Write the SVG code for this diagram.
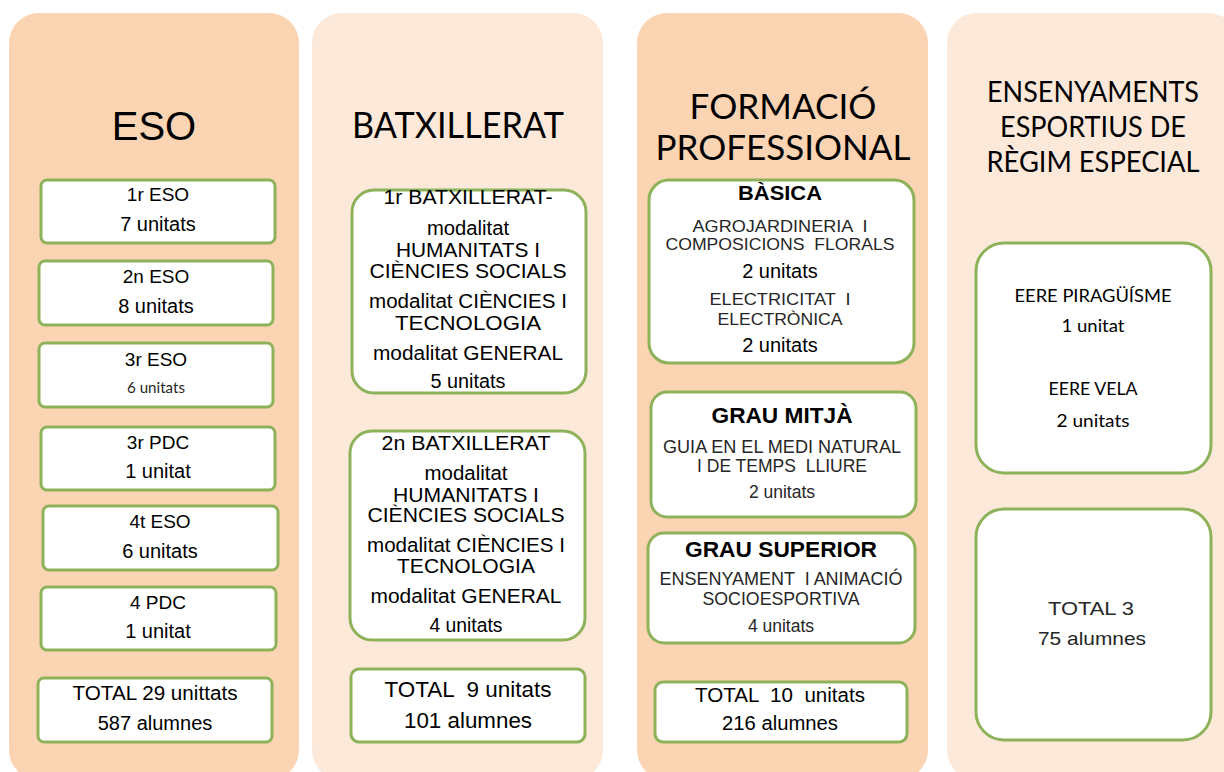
<svg xmlns="http://www.w3.org/2000/svg" width="1224" height="772" viewBox="0 0 1224 772">
<style>
.col1{fill:#FBD4B4}
.col2{fill:#FDE9D9}
.box{fill:#FFFFFF;stroke:#8DB25A;stroke-width:3}
.a{font-family:"Liberation Sans",Arial,sans-serif;fill:#000;text-anchor:middle;white-space:pre}
.c{font-family:Lato,"Liberation Sans",sans-serif;fill:#000;text-anchor:middle;white-space:pre}
.g{fill:#262626}
.b{font-weight:bold}
</style>
<rect width="1224" height="772" fill="#FFFFFF"/>
<g id="col-eso">
<rect class="col1" x="9" y="13" width="290" height="767" rx="30"/>
<text class="a" x="154" y="140" font-size="40">ESO</text>
</g>
<g id="col-batx">
<rect class="col2" x="312" y="13" width="291" height="767" rx="30"/>
<text class="c" x="458" y="138" font-size="36" textLength="212" lengthAdjust="spacingAndGlyphs">BATXILLERAT</text>
</g>
<g id="col-fp">
<rect class="col1" x="637" y="13" width="291" height="767" rx="30"/>
<text class="c" x="783" y="119" font-size="35" textLength="187" lengthAdjust="spacingAndGlyphs">FORMACIÓ</text>
<text class="c" x="783" y="160" font-size="35" textLength="255" lengthAdjust="spacingAndGlyphs">PROFESSIONAL</text>
</g>
<g id="col-eere">
<rect class="col2" x="947" y="13" width="291" height="767" rx="30"/>
<text class="c" x="1093" y="102" font-size="28" textLength="212" lengthAdjust="spacingAndGlyphs">ENSENYAMENTS</text>
<text class="c" x="1093" y="137" font-size="28" textLength="186" lengthAdjust="spacingAndGlyphs">ESPORTIUS DE</text>
<text class="c" x="1093" y="172" font-size="28" textLength="213" lengthAdjust="spacingAndGlyphs">RÈGIM ESPECIAL</text>
</g>

<g id="eso-1r">
<rect class="box" x="41" y="180" width="234" height="63" rx="6"/>
<text class="a" x="158" y="201" font-size="19">1r ESO</text>
<text class="a" x="158" y="231" font-size="20">7 unitats</text>
</g>
<g id="eso-2n">
<rect class="box" x="39" y="261" width="234" height="64" rx="6"/>
<text class="a" x="156" y="283" font-size="19">2n ESO</text>
<text class="a" x="156" y="313" font-size="20">8 unitats</text>
</g>
<g id="eso-3r">
<rect class="box" x="39" y="343" width="234" height="64" rx="6"/>
<text class="a" x="156" y="366" font-size="19">3r ESO</text>
<text class="c g" x="156" y="393" font-size="15" textLength="58" lengthAdjust="spacingAndGlyphs">6 unitats</text>
</g>
<g id="eso-3pdc">
<rect class="box" x="41" y="427" width="234" height="63" rx="6"/>
<text class="a" x="158" y="449" font-size="19">3r PDC</text>
<text class="a" x="158" y="478" font-size="20">1 unitat</text>
</g>
<g id="eso-4t">
<rect class="box" x="43" y="506" width="235" height="64" rx="6"/>
<text class="a" x="160" y="528" font-size="19">4t ESO</text>
<text class="a" x="160" y="558" font-size="20">6 unitats</text>
</g>
<g id="eso-4pdc">
<rect class="box" x="41" y="587" width="235" height="63" rx="6"/>
<text class="a" x="158" y="609" font-size="19">4 PDC</text>
<text class="a" x="158" y="638" font-size="20">1 unitat</text>
</g>
<g id="eso-total">
<rect class="box" x="38" y="678" width="234" height="64" rx="6"/>
<text class="a" x="155" y="700" font-size="20" textLength="165" lengthAdjust="spacingAndGlyphs">TOTAL 29 unittats</text>
<text class="a" x="155" y="730" font-size="20">587 alumnes</text>
</g>

<g id="batx-1r">
<rect class="box" x="352" y="190" width="234" height="203" rx="22"/>
<text class="a" x="468" y="204" font-size="19.5" textLength="169" lengthAdjust="spacingAndGlyphs">1r BATXILLERAT-</text>
<text class="a" x="468" y="235" font-size="19.5" textLength="82" lengthAdjust="spacingAndGlyphs">modalitat</text>
<text class="a" x="468" y="257" font-size="19.5" textLength="144" lengthAdjust="spacingAndGlyphs">HUMANITATS I</text>
<text class="a" x="468" y="278" font-size="19.5" textLength="197" lengthAdjust="spacingAndGlyphs">CIÈNCIES SOCIALS</text>
<text class="a" x="468" y="308" font-size="19.5" textLength="198" lengthAdjust="spacingAndGlyphs">modalitat CIÈNCIES I</text>
<text class="a" x="468" y="330" font-size="19.5" textLength="146" lengthAdjust="spacingAndGlyphs">TECNOLOGIA</text>
<text class="a" x="468" y="360" font-size="19.5" textLength="190" lengthAdjust="spacingAndGlyphs">modalitat GENERAL</text>
<text class="a" x="468" y="388" font-size="19.5" textLength="75" lengthAdjust="spacingAndGlyphs">5 unitats</text>
</g>
<g id="batx-2n">
<rect class="box" x="350" y="431" width="235" height="209" rx="22"/>
<text class="a" x="466" y="450" font-size="19.5" textLength="169" lengthAdjust="spacingAndGlyphs">2n BATXILLERAT</text>
<text class="a" x="466" y="480" font-size="19.5" textLength="83" lengthAdjust="spacingAndGlyphs">modalitat</text>
<text class="a" x="466" y="502" font-size="19.5" textLength="146" lengthAdjust="spacingAndGlyphs">HUMANITATS I</text>
<text class="a" x="466" y="522" font-size="19.5" textLength="197" lengthAdjust="spacingAndGlyphs">CIÈNCIES SOCIALS</text>
<text class="a" x="466" y="552" font-size="19.5" textLength="198" lengthAdjust="spacingAndGlyphs">modalitat CIÈNCIES I</text>
<text class="a" x="466" y="573" font-size="19.5" textLength="138" lengthAdjust="spacingAndGlyphs">TECNOLOGIA</text>
<text class="a" x="466" y="603" font-size="19.5" textLength="191" lengthAdjust="spacingAndGlyphs">modalitat GENERAL</text>
<text class="a" x="466" y="632" font-size="19.5" textLength="73" lengthAdjust="spacingAndGlyphs">4 unitats</text>
</g>
<g id="batx-total">
<rect class="box" x="351" y="669" width="234" height="73" rx="8"/>
<text class="a" x="468" y="697" font-size="22" textLength="167" lengthAdjust="spacingAndGlyphs">TOTAL  9 unitats</text>
<text class="a" x="468" y="728" font-size="22" textLength="128" lengthAdjust="spacingAndGlyphs">101 alumnes</text>
</g>

<g id="fp-basica">
<rect class="box" x="649" y="180" width="265" height="183" rx="20"/>
<text class="a b" x="780" y="200" font-size="21" textLength="84" lengthAdjust="spacingAndGlyphs">BÀSICA</text>
<text class="a g" x="780" y="232" font-size="17" textLength="175" lengthAdjust="spacingAndGlyphs">AGROJARDINERIA  I</text>
<text class="a g" x="780" y="250" font-size="17" textLength="229" lengthAdjust="spacingAndGlyphs">COMPOSICIONS  FLORALS</text>
<text class="a" x="780" y="278" font-size="20">2 unitats</text>
<text class="a g" x="780" y="305" font-size="17" textLength="141" lengthAdjust="spacingAndGlyphs">ELECTRICITAT  I</text>
<text class="a g" x="780" y="325" font-size="17" textLength="125" lengthAdjust="spacingAndGlyphs">ELECTRÒNICA</text>
<text class="a" x="780" y="352" font-size="20">2 unitats</text>
</g>
<g id="fp-mitja">
<rect class="box" x="651" y="392" width="265" height="125" rx="16"/>
<text class="a b" x="782" y="423" font-size="21.5" textLength="141" lengthAdjust="spacingAndGlyphs">GRAU MITJÀ</text>
<text class="a g" x="782" y="453" font-size="17.5" textLength="238" lengthAdjust="spacingAndGlyphs">GUIA EN EL MEDI NATURAL</text>
<text class="a g" x="782" y="472" font-size="17.5" textLength="170" lengthAdjust="spacingAndGlyphs">I DE TEMPS  LLIURE</text>
<text class="a g" x="782" y="498" font-size="17.5">2 unitats</text>
</g>
<g id="fp-superior">
<rect class="box" x="648" y="533" width="267" height="110" rx="16"/>
<text class="a b" x="781" y="557" font-size="21.5" textLength="192" lengthAdjust="spacingAndGlyphs">GRAU SUPERIOR</text>
<text class="a g" x="781" y="585" font-size="17.5" textLength="243" lengthAdjust="spacingAndGlyphs">ENSENYAMENT  I ANIMACIÓ</text>
<text class="a g" x="781" y="605" font-size="17.5" textLength="157" lengthAdjust="spacingAndGlyphs">SOCIOESPORTIVA</text>
<text class="a g" x="781" y="632" font-size="17.5">4 unitats</text>
</g>
<g id="fp-total">
<rect class="box" x="655" y="682" width="252" height="60" rx="8"/>
<text class="a" x="780" y="702" font-size="20" textLength="170" lengthAdjust="spacingAndGlyphs">TOTAL  10  unitats</text>
<text class="a" x="780" y="730" font-size="20" textLength="116" lengthAdjust="spacingAndGlyphs">216 alumnes</text>
</g>

<g id="eere-list">
<rect class="box" x="976" y="243" width="235" height="230" rx="28"/>
<text class="c" x="1093" y="302" font-size="18" textLength="157" lengthAdjust="spacingAndGlyphs">EERE PIRAGÜÍSME</text>
<text class="c" x="1093" y="332" font-size="18" textLength="63" lengthAdjust="spacingAndGlyphs">1 unitat</text>
<text class="c" x="1093" y="395" font-size="18" textLength="89" lengthAdjust="spacingAndGlyphs">EERE VELA</text>
<text class="c" x="1093" y="427" font-size="18" textLength="73" lengthAdjust="spacingAndGlyphs">2 unitats</text>
</g>
<g id="eere-total">
<rect class="box" x="976" y="509" width="235" height="231" rx="28"/>
<text class="a g" x="1091" y="615" font-size="19" textLength="86" lengthAdjust="spacingAndGlyphs">TOTAL 3</text>
<text class="a g" x="1092" y="645" font-size="19" textLength="108" lengthAdjust="spacingAndGlyphs">75 alumnes</text>
</g>
<g id="connectors"></g>
</svg>
